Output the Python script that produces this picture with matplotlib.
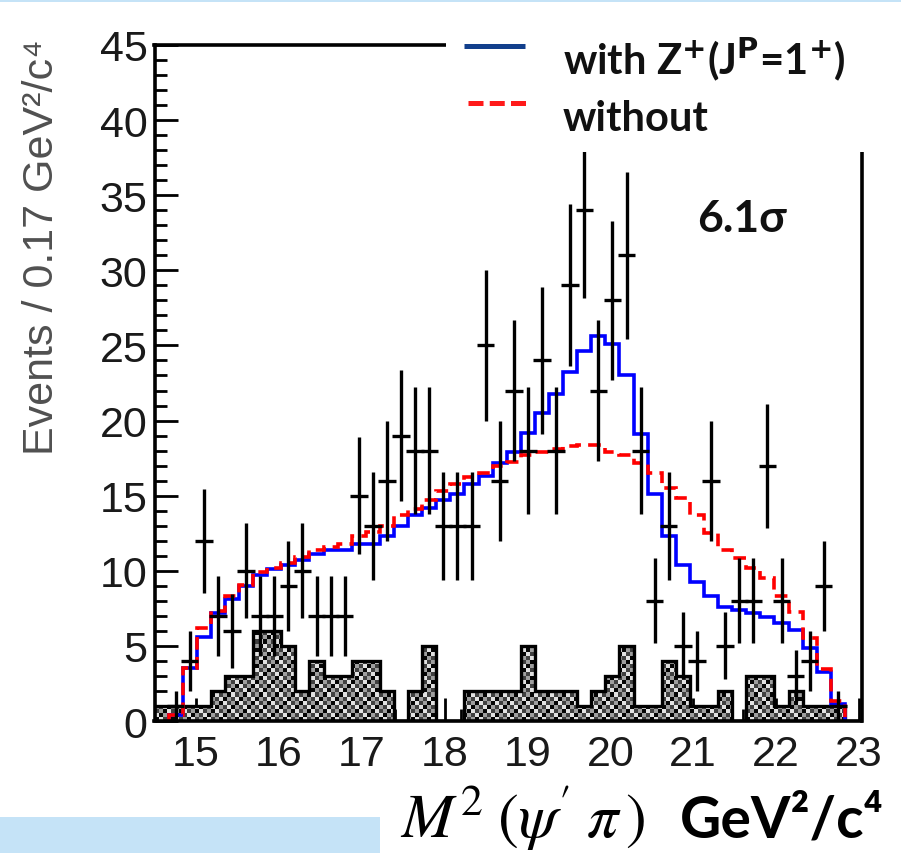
import numpy as np
import matplotlib
matplotlib.use("Agg")
import matplotlib.pyplot as plt
from matplotlib.lines import Line2D
from matplotlib.patches import Rectangle
from matplotlib.ticker import MultipleLocator

# ---------------- data ----------------
bin_low = 14.5
bin_width = 0.17
n_bins = 50

data_counts = [0, 1, 4, 12, 7, 6, 10, 7, 7, 9,
               10, 7, 7, 7, 15, 13, 16, 19, 18, 18,
               13, 13, 13, 25, 16, 22, 18, 24, 18, 29,
               34, 22, 28, 31, 18, 8, 13, 5, 4, 16,
               5, 8, 8, 17, 8, 3, 4, 9, 1, 0]
fit_with_z = [0, 0.4, 3.5, 5.6, 7.2, 8.1, 9.0, 9.7, 10.1, 10.4,
              10.7, 11.1, 11.35, 11.4, 11.8, 11.8, 12.3, 13.0, 13.7, 14.2,
              14.7, 15.1, 15.8, 16.3, 17.2, 17.9, 19.2, 20.5, 21.8, 23.2,
              24.6, 25.6, 25.1, 23.0, 19.1, 15.1, 12.3, 10.4, 9.25, 8.3,
              7.6, 7.4, 7.2, 6.9, 6.5, 6.07, 4.85, 3.25, 1.13, 0]
fit_without = [0, 0.4, 3.5, 6.2, 7.35, 8.35, 9.07, 9.95, 10.2, 10.5,
               10.9, 11.35, 11.6, 11.8, 12.3, 12.6, 13.0, 13.7, 14.1, 14.7,
               15.3, 15.8, 16.25, 16.5, 17.0, 17.25, 17.7, 17.9, 18.1, 18.3,
               18.4, 18.4, 17.9, 17.7, 17.2, 16.5, 15.5, 14.85, 13.7, 12.5,
               11.35, 10.85, 10.2, 9.5, 8.35, 7.25, 5.5, 3.47, 1.35, 0]
background = [1, 1, 1, 1, 2, 3, 3, 6, 6, 5,
              2, 4, 3, 3, 4, 4, 2, 0, 2, 5,
              0, 0, 2, 2, 2, 2, 5, 2, 2, 2,
              1, 2, 3, 5, 1, 1, 4, 3, 1, 1,
              2, 0, 3, 3, 1, 2, 1, 1, 1, 0]
x_ticks = [15, 16, 17, 18, 19, 20, 21, 22, 23]
y_ticks = [0, 5, 10, 15, 20, 25, 30, 35, 40, 45]
legend_labels = [r"with Z$^{\mathbf{+}}$(J$^{\mathbf{P}}$=1$^{\mathbf{+}}$)", "without"]
significance = "6.1σ"
y_title = "Events / 0.17 GeV²/c⁴"
x_title_math = r"$M^2\;(\psi'\;\pi\,)$"
x_title_unit = "GeV²/c⁴"

# ---------------- figure ----------------
plt.rcParams["font.family"] = ["Liberation Sans", "DejaVu Sans"]
W, H = 901, 854
fig = plt.figure(figsize=(W / 100, H / 100), dpi=100)

def fx(px):
    return px / W

def fy(py):
    return 1 - py / H

ax = fig.add_axes([fx(154.5), fy(722), 707 / W, 676 / H])
ax.set_axisbelow(True)

edges = bin_low + bin_width * np.arange(n_bins + 1)
centers = 0.5 * (edges[:-1] + edges[1:])
xlo, xhi = 14.5, 23.03

# background: checker fill clipped to the step shape
ny, nx = 26, 177
ii, jj = np.mgrid[0:ny, 0:nx]
dark = (ii + jj) % 2 == 0
alt = ((ii // 2) + (jj // 2)) % 2 == 0
pattern = np.where(dark, np.where(alt, 0.02, 0.25), np.where(alt, 0.88, 0.62))
im = ax.imshow(pattern, cmap="gray", vmin=0, vmax=1, extent=(xlo, xhi, 0, 7),
               origin="lower", aspect="auto", interpolation="nearest", zorder=1)
clip = ax.stairs(background, edges, baseline=0, fill=True,
                 facecolor="none", edgecolor="none", zorder=1)
im.set_clip_path(clip)
ax.stairs(background, edges, baseline=0, fill=False, color="black",
          linewidth=2.4, zorder=1.5)

# fit curves
wz = np.array(fit_with_z)
wo = np.array(fit_without)
ax.stairs(wz[1:49], edges[1:50], baseline=0, color="#0000ff",
          linewidth=2.6, zorder=2)
ax.stairs(wo[1:49], edges[1:50], baseline=0, color="#ff0000",
          linewidth=2.6, linestyle=(0, (3.5, 2)), zorder=2.2)

# data points
dc = np.array(data_counts, dtype=float)
m = dc > 0
ax.errorbar(centers[m], dc[m], yerr=np.sqrt(dc[m]), xerr=0.105,
            fmt="none", ecolor="black", elinewidth=2.4, capsize=0, zorder=3)

ax.set_xlim(xlo, xhi)
ax.set_ylim(0, 45)

for s in ax.spines.values():
    s.set_linewidth(2.6)
    s.set_color("black")

ax.xaxis.set_major_locator(MultipleLocator(1))
ax.xaxis.set_minor_locator(MultipleLocator(0.2))
ax.yaxis.set_major_locator(MultipleLocator(5))
ax.yaxis.set_minor_locator(MultipleLocator(1))
ax.set_xticks(x_ticks)
ax.set_yticks(y_ticks)
ax.set_xticklabels([str(t) for t in x_ticks])
ax.set_yticklabels([str(t) for t in y_ticks])
ax.tick_params(which="both", direction="in", top=False, right=False,
               width=2.0, colors="black", labelcolor="#1a1a1a", labelsize=31)
ax.tick_params(which="major", length=16.5)
ax.tick_params(which="minor", length=8.5)
ax.tick_params(axis="y", pad=5)
ax.tick_params(axis="x", pad=9)

# y title
fig.text(fx(42), fy(247), y_title, rotation=90, ha="center", va="center",
         fontsize=31, color="#505050")

# x title
fig.text(fx(400), fy(838), x_title_math, ha="left", va="baseline",
         fontsize=45, math_fontfamily="stix", color="black")
fig.text(fx(680), fy(838), x_title_unit, ha="left", va="baseline",
         fontsize=41, fontweight="bold", family=["Lato", "DejaVu Sans"],
         color="black")

# decorative slide bars
fig.add_artist(Rectangle((0, fy(3)), 1, 3 / H, transform=fig.transFigure,
                         facecolor="#c5e3f7", edgecolor="none", zorder=12))
fig.add_artist(Rectangle((0, 0), fx(380), 36 / H, transform=fig.transFigure,
                         facecolor="#c5e3f7", edgecolor="none", zorder=12))

# legend box (white, covering the frame corner)
fig.add_artist(Rectangle((fx(446), fy(153)), 1 - fx(446), (153 - 3) / H,
                         transform=fig.transFigure, facecolor="white",
                         edgecolor="none", zorder=10))
fig.add_artist(Line2D([fx(464), fx(525)], [fy(47), fy(47)],
                      transform=fig.transFigure, color="#123f8c",
                      linewidth=3.6, zorder=11, solid_capstyle="butt"))
fig.add_artist(Line2D([fx(468), fx(528)], [fy(104), fy(104)],
                      transform=fig.transFigure, color="#ff1a1a",
                      linewidth=3.6, linestyle=(0, (3, 1.25)), zorder=11,
                      dash_capstyle="butt"))
fig.text(fx(563), fy(75), legend_labels[0], ha="left", va="baseline",
         fontsize=30, fontweight="bold", family=["Lato", "DejaVu Sans"],
         math_fontfamily="dejavusans", color="#111111", zorder=11)
fig.text(fx(563), fy(131), legend_labels[1], ha="left", va="baseline",
         fontsize=30, fontweight="bold", family=["Lato", "DejaVu Sans"],
         color="#111111", zorder=11)
fig.text(fx(697), fy(232), significance, ha="left", va="baseline",
         fontsize=32, fontweight="bold", family=["Lato", "DejaVu Sans"],
         color="#111111", zorder=11)

fig.savefig("out.png", dpi=100)
